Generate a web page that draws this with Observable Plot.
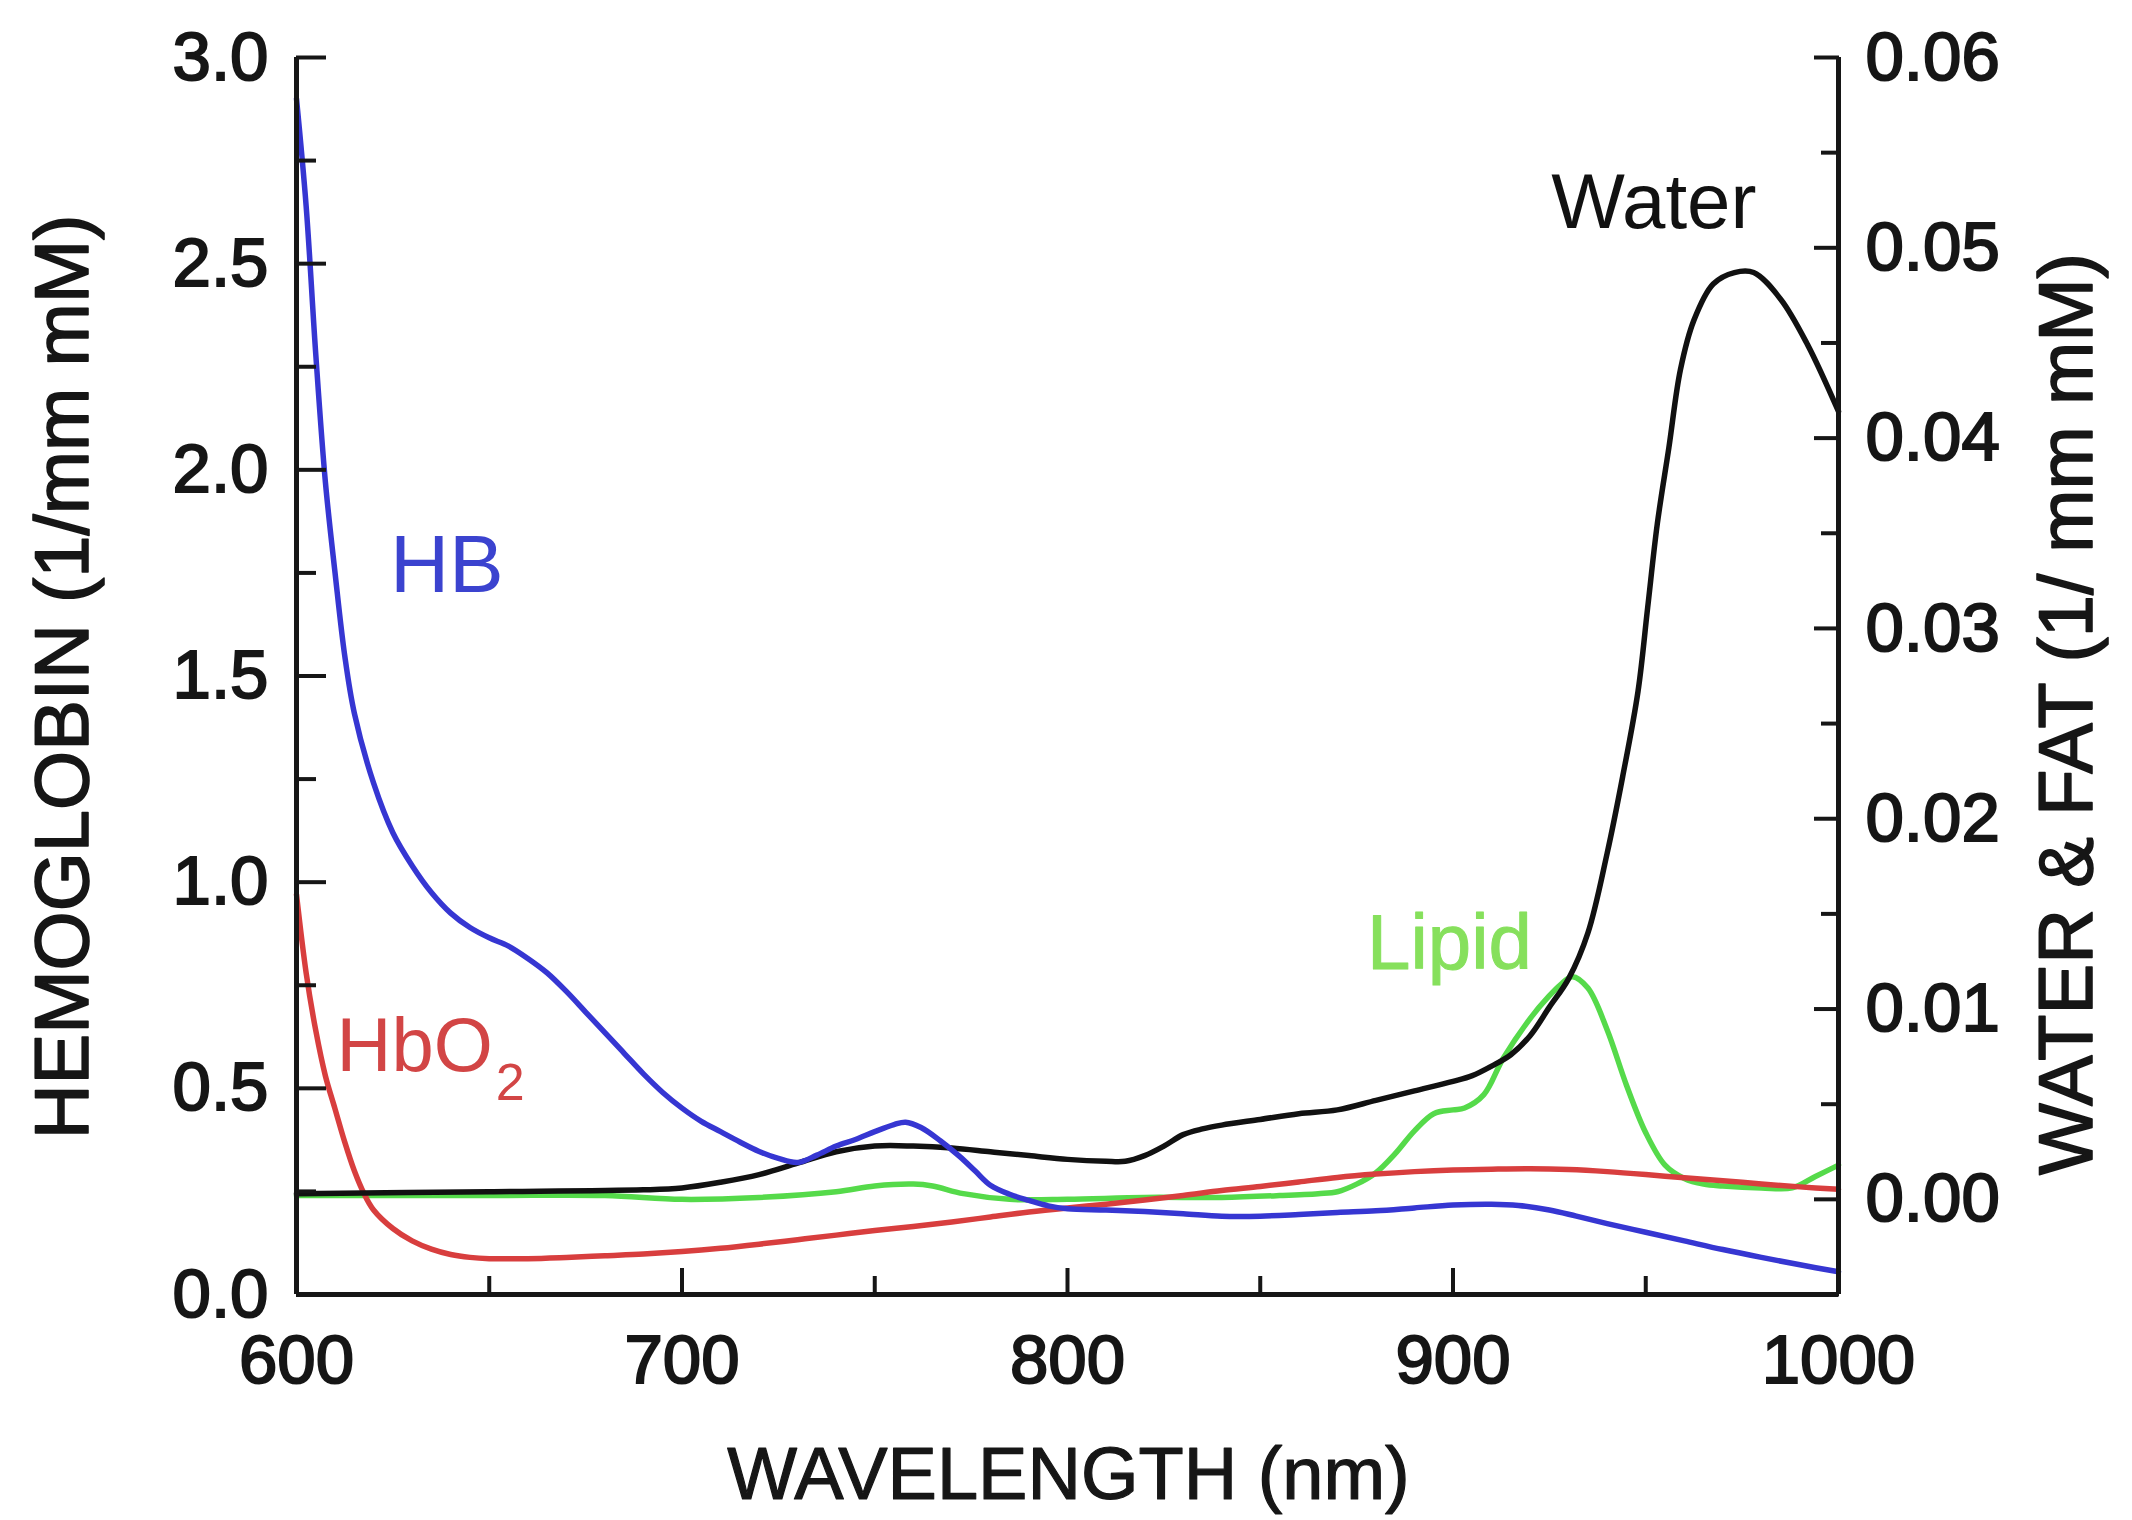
<!DOCTYPE html>
<html>
<head>
<meta charset="utf-8">
<script src="https://cdn.jsdelivr.net/npm/d3@7"></script>
<script src="https://cdn.jsdelivr.net/npm/@observablehq/plot@0.6"></script>
<style>
  html, body { margin: 0; padding: 0; background: #fff; }
  #chart { width: 2132px; height: 1520px; }
</style>
</head>
<body>
<div id="chart"></div>
<script>
// ---------- DATA ----------
// Hemoglobin (left axis, 1/mm mM)
const hbNm  = [600,602.5,605,607.5,610,612.5,615,620,625,630,635,640,645,650,655,660,665,670,675,680,685,690,695,700,705,710,715,720,725,730,735,740,745,750,755,758,762,767,772,776,780,785,790,795,800,810,820,830,840,850,860,870,880,890,900,910,917,925,932,940,950,960,970,980,990,1000];
const hbVal = [2.90,2.64,2.28,1.97,1.75,1.55,1.41,1.24,1.12,1.04,0.975,0.925,0.89,0.865,0.845,0.815,0.78,0.735,0.685,0.635,0.585,0.535,0.49,0.452,0.42,0.395,0.37,0.347,0.33,0.32,0.338,0.36,0.376,0.395,0.412,0.418,0.405,0.373,0.335,0.30,0.265,0.243,0.228,0.215,0.208,0.205,0.201,0.196,0.19,0.19,0.194,0.199,0.203,0.21,0.217,0.219,0.216,0.205,0.19,0.172,0.151,0.13,0.109,0.09,0.072,0.055];

const hbo2Nm  = [600,602.5,605,607.5,610,612.5,615,617.5,620,625,630,635,640,645,650,660,670,680,690,700,710,720,730,740,750,760,770,780,790,800,810,820,830,840,850,860,870,880,890,900,910,920,930,940,950,960,970,980,990,1000];
const hbo2Val = [0.97,0.78,0.64,0.53,0.45,0.37,0.30,0.245,0.205,0.16,0.13,0.11,0.097,0.09,0.087,0.087,0.09,0.094,0.098,0.104,0.112,0.122,0.133,0.144,0.155,0.165,0.176,0.188,0.20,0.21,0.219,0.229,0.24,0.252,0.262,0.273,0.284,0.292,0.298,0.302,0.304,0.305,0.303,0.298,0.291,0.283,0.276,0.268,0.261,0.255];

// Water and fat (right axis, 1/mm mM)
const waterNm  = [600,650,690,700,710,720,730,740,750,760,770,780,790,800,810,815,820,825,830,835,840,850,860,870,880,890,900,905,910,915,920,925,930,935,940,944,948,950.5,953,956,959,962.5,967.5,973,978,985,992,1000];
const waterVal = [0.0003,0.0004,0.0005,0.0006,0.0009,0.0013,0.0019,0.0025,0.0028,0.0028,0.0027,0.0025,0.0023,0.0021,0.0020,0.0020,0.0023,0.0028,0.0034,0.0037,0.0039,0.0042,0.0045,0.0047,0.0052,0.0057,0.0062,0.0065,0.0070,0.0076,0.0086,0.0101,0.0116,0.0140,0.0182,0.0222,0.0267,0.0311,0.0355,0.0395,0.0436,0.0462,0.0481,0.0487,0.0487,0.0473,0.0449,0.0414];

const lipidNm  = [600,650,680,700,720,740,750,760,765,773,785,800,820,840,855,865,870,875,880,885,890,895,900,903,908,913,920,925,928,931,935,940,945,950,955,960,965,970,980,988,994,1000];
const lipidVal = [0.0002,0.0002,0.0002,0.0000,0.0001,0.0004,0.0007,0.0008,0.0007,0.0003,0.0000,0.0000,0.0001,0.0001,0.0002,0.0003,0.0004,0.0008,0.0014,0.0024,0.0036,0.0045,0.0047,0.0048,0.0055,0.0074,0.0095,0.0107,0.0113,0.0117,0.0111,0.0089,0.0060,0.0035,0.0018,0.0011,0.0008,0.0007,0.0006,0.0006,0.0012,0.0018];

// Axes ticks
const xMajor = [600,700,800,900,1000];
const xMinor = [650,750,850,950];
const leftMajor = [0,0.5,1.0,1.5,2.0,2.5,3.0];
const leftMinor = [0.25,0.75,1.25,1.75,2.25,2.75];
const rightMajor = [0,0.01,0.02,0.03,0.04,0.05,0.06];
const rightMinor = [-0.005,0.005,0.015,0.025,0.035,0.045,0.055];
const rightDomain = [-0.005, 0.06];
const leftDomain = [0, 3];

// Annotations (wavelength, value on its own axis)
const annHB    = {text: "HB",    nm: 639,   v: 1.703};
const annHbO2  = {text: "HbO",   nm: 610.4, v: 0.543};
const annLipid = {text: "Lipid", nm: 899.1, w: 0.0121};
const annWater = {text: "Water", nm: 952.1, w: 0.05105};

const titleLeft = "HEMOGLOBIN (1/mm mM)";
const titleRight = "WATER & FAT (1/ mm mM)";
const titleX = "WAVELENGTH (nm)";

// ---------- BUILD ----------
const toLeft = w => (w - rightDomain[0]) * (leftDomain[1] - leftDomain[0]) / (rightDomain[1] - rightDomain[0]) + leftDomain[0];
const fromLeft = v => (v - leftDomain[0]) * (rightDomain[1] - rightDomain[0]) / (leftDomain[1] - leftDomain[0]) + rightDomain[0];

const hb = hbNm.map((x, i) => ({x, y: hbVal[i]}));
const hbo2 = hbo2Nm.map((x, i) => ({x, y: hbo2Val[i]}));
const water = waterNm.map((x, i) => ({x, y: toLeft(waterVal[i])}));
const lipid = lipidNm.map((x, i) => ({x, y: toLeft(lipidVal[i])}));

const BLUE = "#3636d2", RED = "#d83e3e", GREEN = "#55da4a", BLACK = "#111";
const FONT = "'Liberation Sans', Arial, Helvetica, sans-serif";
const tickFont = 69;
const axisColor = "#161616";
const blank = () => "";
const LW = 5.5;

const plot = Plot.plot({
  width: 2132,
  height: 1520,
  marginLeft: 296,
  marginRight: 294,
  marginTop: 57,
  marginBottom: 226,
  style: {fontFamily: FONT, background: "#fff", color: axisColor},
  x: {domain: [600, 1000]},
  y: {domain: leftDomain},
  marks: [
    // curves
    Plot.line(lipid, {x: "x", y: "y", stroke: GREEN, strokeWidth: LW, curve: "catmull-rom"}),
    Plot.line(hbo2, {x: "x", y: "y", stroke: RED, strokeWidth: LW, curve: "catmull-rom"}),
    Plot.line(water, {x: "x", y: "y", stroke: BLACK, strokeWidth: LW, curve: "catmull-rom"}),
    Plot.line(hb, {x: "x", y: "y", stroke: BLUE, strokeWidth: LW, curve: "catmull-rom"}),

    // axis lines
    Plot.ruleX([600, 1000], {stroke: axisColor, strokeWidth: 5}),
    Plot.ruleY([0], {stroke: axisColor, strokeWidth: 5}),

    // left axis ticks and labels
    Plot.axisY(leftMajor, {anchor: "left", tickSize: -30, strokeWidth: 4, tickFormat: blank, label: null}),
    Plot.axisY(leftMinor, {anchor: "left", tickSize: -20, strokeWidth: 4, tickFormat: blank, label: null}),
    Plot.axisY(leftMajor, {anchor: "left", tickSize: 0, tickPadding: 28, tickFormat: d3.format(".1f"), fontSize: tickFont, label: null}),

    // right axis ticks and labels
    Plot.axisY(rightMajor.map(toLeft), {anchor: "right", tickSize: -25, strokeWidth: 4, tickFormat: blank, label: null}),
    Plot.axisY(rightMinor.map(toLeft), {anchor: "right", tickSize: -18, strokeWidth: 4, tickFormat: blank, label: null}),
    Plot.axisY(rightMajor.map(toLeft), {anchor: "right", tickSize: 0, tickPadding: 27, tickFormat: v => d3.format(".2f")(fromLeft(v) + 1e-9), fontSize: tickFont, label: null}),

    // x axis ticks and labels
    Plot.axisX(xMajor, {anchor: "bottom", tickSize: -26, strokeWidth: 4, tickFormat: blank, label: null}),
    Plot.axisX(xMinor, {anchor: "bottom", tickSize: -18, strokeWidth: 4, tickFormat: blank, label: null}),
    Plot.axisX(xMajor, {anchor: "bottom", tickSize: 0, tickPadding: 39, tickFormat: d3.format("d"), fontSize: tickFont, label: null}),

    // axis titles
    Plot.text([titleLeft], {frameAnchor: "left", dx: -233, dy: 1, rotate: -90, fontSize: 76, textAnchor: "middle", lineAnchor: "middle", fill: axisColor, stroke: axisColor, strokeWidth: 1.6}),
    Plot.text([titleRight], {frameAnchor: "right", dx: 229, dy: 38, rotate: -90, fontSize: 76, textAnchor: "middle", lineAnchor: "middle", fill: axisColor, stroke: axisColor, strokeWidth: 1.6}),
    Plot.text([titleX], {frameAnchor: "bottom", dx: 1, dy: 204, fontSize: 74, textAnchor: "middle", lineAnchor: "bottom", fill: axisColor, stroke: axisColor, strokeWidth: 1.2}),

    // annotations
    Plot.text([annHB], {x: "nm", y: "v", text: "text", fill: "#3b43cf", fontSize: 82, textAnchor: "middle", lineAnchor: "bottom"}),
    Plot.text([annHbO2], {x: "nm", y: "v", text: "text", fill: "#d24545", fontSize: 76, textAnchor: "start", lineAnchor: "bottom"}),
    Plot.text([annLipid], {x: "nm", y: d => toLeft(d.w), text: "text", fill: "#86e05c", fontSize: 78, textAnchor: "middle", lineAnchor: "bottom", stroke: "#86e05c", strokeWidth: 1}),
    Plot.text([annWater], {x: "nm", y: d => toLeft(d.w), text: "text", fill: "#111", fontSize: 78, textAnchor: "middle", lineAnchor: "bottom"})
  ]
});

// thicken tick labels slightly (the reference glyphs are heavier)
plot.querySelectorAll('g[aria-label$="tick label"]').forEach(g => {
  g.setAttribute("stroke", axisColor);
  g.setAttribute("stroke-width", "2");
});

// subscript for HbO2
plot.querySelectorAll("text").forEach(t => {
  if (t.textContent === "HbO") {
    const ts = document.createElementNS("http://www.w3.org/2000/svg", "tspan");
    ts.textContent = "2";
    ts.setAttribute("font-size", "52");
    ts.setAttribute("dy", "29");
    ts.setAttribute("dx", "3");
    t.appendChild(ts);
  }
});

document.getElementById("chart").appendChild(plot);
</script>
</body>
</html>
